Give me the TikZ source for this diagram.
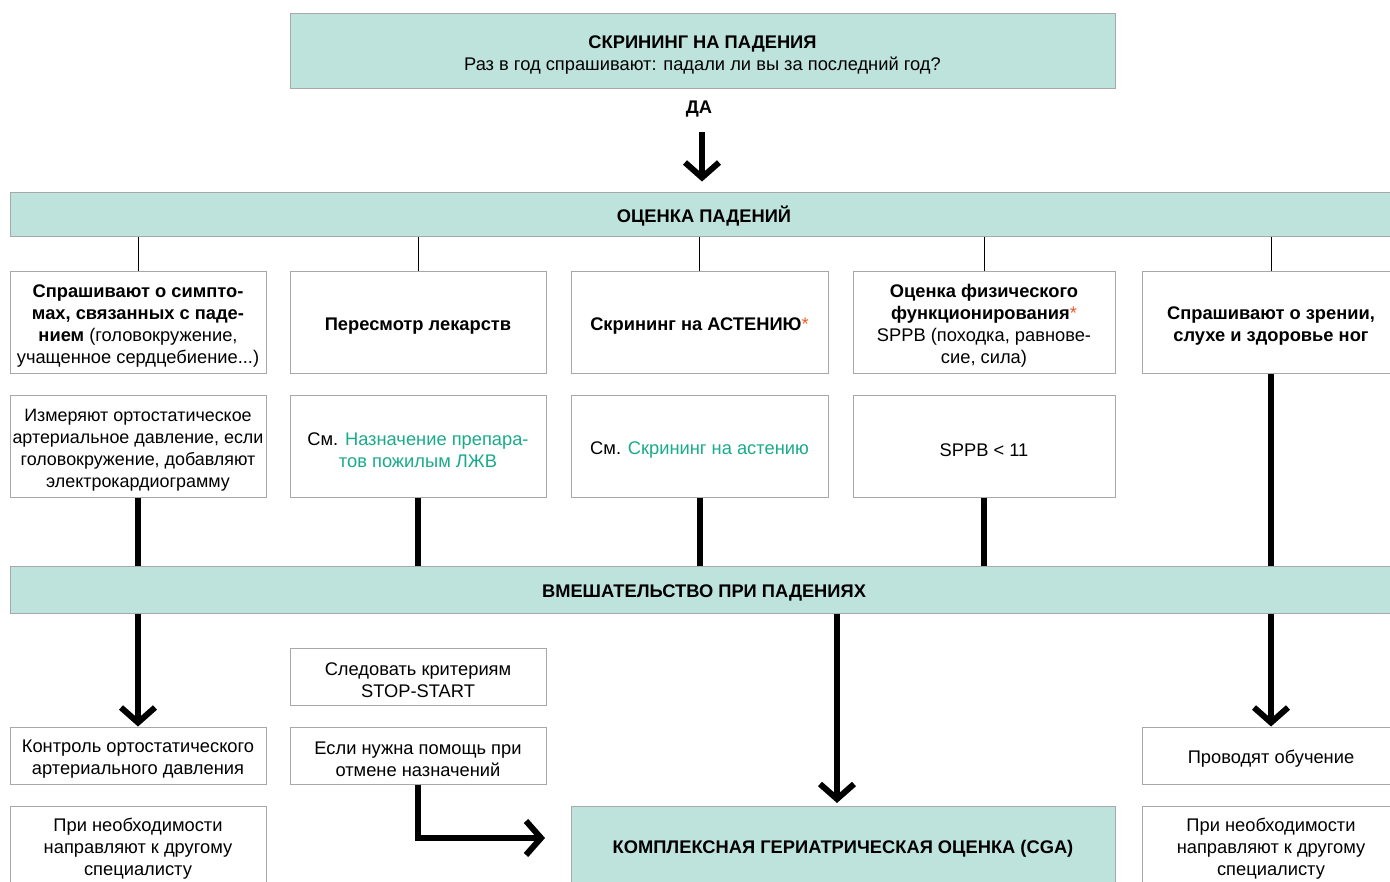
\documentclass[tikz,border=0pt]{standalone}
\usepackage{fontspec}
\setmainfont{Liberation Sans}
\usetikzlibrary{arrows.meta}

\definecolor{mint}{HTML}{BDE3DC}
\definecolor{edge}{HTML}{A8A8A8}
\definecolor{linkgreen}{HTML}{1AAB8A}
\definecolor{star}{HTML}{F05A28}

\newcommand{\lnk}[1]{\textcolor{linkgreen}{#1}}
\newcommand{\redstar}{\textcolor{star}{*}}
\newcommand{\txtsize}{\fontsize{18.3}{22}\selectfont}
% tall invisible strut that sets the first line a little lower in its box
\newcommand{\fl}{\rule{0pt}{19.5pt}}

\tikzset{
  every node/.style={font=\txtsize, execute at begin node={\fl}},
  band/.style={draw=edge, line width=1pt, fill=mint, align=center, inner sep=0pt,
    font=\txtsize\bfseries},
  cell/.style={draw=edge, line width=1pt, fill=white, align=center, inner sep=0pt},
  thin/.style={line width=1pt},
  flow/.style={line width=6pt},
  flowarrow/.style={line width=6pt, -{Straight Barb[length=15pt,width=34pt]}},
}

\begin{document}
\begin{tikzpicture}[x=1pt, y=-1pt]
\clip (0,0) rectangle (1390,882);
\fill[white] (0,0) rectangle (1390,882);

% screening
\node[band, font=\txtsize, minimum width=825, minimum height=75]
  (screen) at (702.5,51.5) {\fl\textbf{СКРИНИНГ НА ПАДЕНИЯ}\\Раз в год спрашивают: падали ли вы за последний год?};
\node[font=\txtsize\bfseries, inner sep=0pt] (yes) at (699,106) {ДА};

% assessment
\node[band, minimum width=1388, minimum height=44] (assess) at (704,215) {ОЦЕНКА ПАДЕНИЙ};

\node[cell, minimum width=256, minimum height=102] (a1) at (138,323)
  {\fl\textbf{Спрашивают о симпто-}\\\textbf{мах, связанных с паде-}\\\textbf{нием} (головокружение,\\учащенное сердцебиение...)};
\node[cell, minimum width=256, minimum height=102] (b1) at (418,323)
  {\textbf{Пересмотр лекарств}};
\node[cell, minimum width=257, minimum height=102] (c1) at (699.5,323)
  {\textbf{Скрининг на АСТЕНИЮ}\redstar};
\node[cell, minimum width=262, minimum height=102] (d1) at (984,323)
  {\fl\textbf{Оценка физического}\\\textbf{функционирования}\redstar\\SPPB (походка, равнове-\\сие, сила)};
\node[cell, minimum width=258, minimum height=102] (e1) at (1271,323)
  {\fl\textbf{Спрашивают о зрении,}\\\textbf{слухе и здоровье ног}};

\node[cell, minimum width=256, minimum height=101, font=\fontsize{17.9}{22}\selectfont] (a2) at (138,446.5)
  {\fl Измеряют ортостатическое\\артериальное давление, если\\головокружение, добавляют\\электрокардиограмму};
\node[cell, minimum width=256, minimum height=101] (b2) at (418,446.5)
  {\fl См. \lnk{Назначение препара-}\\\lnk{тов пожилым ЛЖВ}};
\node[cell, minimum width=257, minimum height=101] (c2) at (699.5,446.5)
  {См. \lnk{Скрининг на астению}};
\node[cell, minimum width=262, minimum height=101] (d2) at (984,446.5)
  {SPPB < 11};

% interventions
\node[band, minimum width=1388, minimum height=47] (act) at (704,589.5) {ВМЕШАТЕЛЬСТВО ПРИ ПАДЕНИЯХ};

\node[cell, minimum width=256, minimum height=57] (stop) at (418,676.5)
  {\fl Следовать критериям\\STOP-START};
\node[cell, minimum width=256, minimum height=57] (ctrl) at (138,755.5)
  {\fl Контроль ортостатического\\артериального давления};
\node[cell, minimum width=256, minimum height=57] (debr) at (418,755.5)
  {\fl Если нужна помощь при\\отмене назначений};
\node[cell, minimum width=258, minimum height=57] (educ) at (1271,755.5)
  {Проводят обучение};
\node[cell, minimum width=256, minimum height=80] (refl) at (138,846)
  {\fl При необходимости\\направляют к другому\\специалисту};
\node[cell, minimum width=258, minimum height=80] (refr) at (1271,846)
  {\fl При необходимости\\направляют к другому\\специалисту};
\node[band, minimum width=544, minimum height=80] (cga) at (843,846)
  {КОМПЛЕКСНАЯ ГЕРИАТРИЧЕСКАЯ ОЦЕНКА (CGA)};

\coordinate (cgaTop) at (837,806);
\coordinate (cgaSide) at (571,838);

% connectors
\draw[flowarrow, shorten <=14pt, shorten >=11pt] ([xshift=3pt]yes.south) -- ([xshift=3pt]yes.south |- assess.north);

\foreach \n in {a1,b1,c1,d1,e1}
  \draw[thin] (assess.south -| \n.north) -- (\n.north);

\foreach \n in {a2,b2,c2,d2}
  \draw[flow] (\n.south) -- (\n.south |- act.north);
\draw[flow] (e1.south) -- (e1.south |- act.north);

\draw[flowarrow] (act.south -| ctrl.north) -- (ctrl.north);
\draw[flowarrow, shorten >=3pt] (act.south -| cgaTop) -- (cgaTop);
\draw[flowarrow] (act.south -| educ.north) -- (educ.north);
\draw[flowarrow, shorten >=26pt] (debr.south) |- (cgaSide);
\end{tikzpicture}
\end{document}
